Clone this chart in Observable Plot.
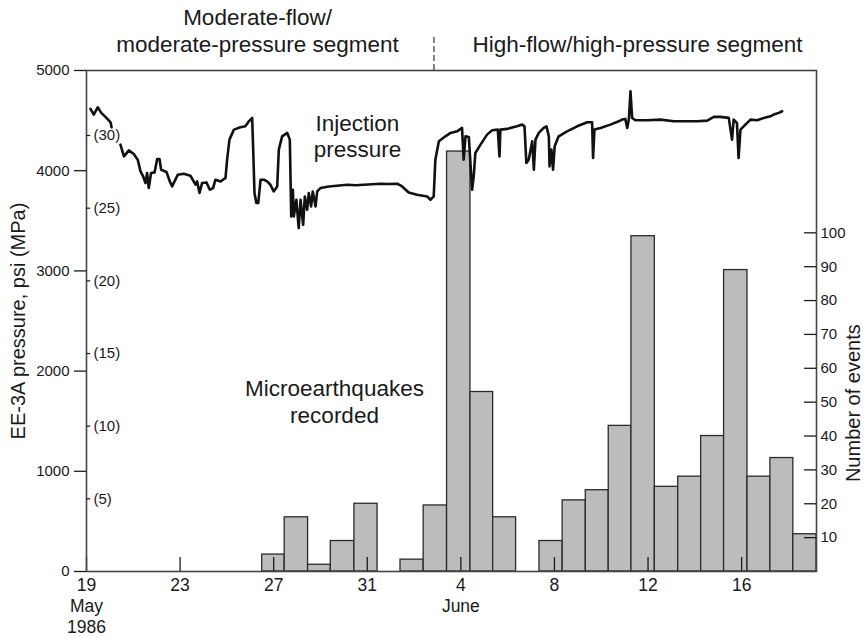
<!DOCTYPE html>
<html><head><meta charset="utf-8">
<script src="https://cdn.jsdelivr.net/npm/d3@7"></script>
<script src="https://cdn.jsdelivr.net/npm/@observablehq/plot@0.6"></script>
<style>body{margin:0;background:#fff;} #chart{width:865px;height:638px;}</style>
</head><body><div id="chart"></div>
<script>
// ---- data (days since 19 May 1986) ----
const pressureDay = [0.17,0.31,0.48,0.63,0.81,1.03,1.07,1.2,1.45,1.6,1.81,2.02,2.19,2.31,2.42,2.52,2.59,2.66,2.76,2.91,3.02,3.12,3.19,3.42,3.56,3.66,3.9,4.16,4.44,4.66,4.73,4.83,4.94,5.13,5.27,5.41,5.51,5.73,5.94,6.01,6.11,6.3,6.58,6.79,6.94,7.08,7.12,7.18,7.26,7.34,7.44,7.58,7.72,7.86,8.0,8.15,8.22,8.36,8.58,8.69,8.75,8.82,8.86,8.97,9.07,9.15,9.26,9.33,9.43,9.5,9.6,9.67,9.79,9.86,10.0,10.36,10.7,11.14,11.5,11.85,12.2,12.56,12.9,13.28,13.49,13.77,14.13,14.56,14.7,14.84,14.91,15.06,15.34,15.56,15.84,16.05,16.12,16.2,16.34,16.48,16.55,16.62,16.84,17.12,17.34,17.58,17.65,17.69,17.98,18.4,18.62,18.72,18.8,18.9,19.05,19.12,19.19,19.33,19.54,19.66,19.76,19.79,19.87,19.94,20.01,20.18,20.54,20.97,21.4,21.61,21.65,21.71,21.97,22.39,22.75,22.89,23.03,23.11,23.18,23.25,23.32,23.46,23.96,24.53,25.1,25.53,26.1,26.53,26.81,27.09,27.45,27.59,27.66,27.8,27.87,27.95,28.16,28.38,28.66,28.95,29.23,29.37,29.59,29.73];
const pressurePsi = [4617,4560,4633,4577,4537,4483,4433,null,4260,4143,4203,4167,4110,3993,3943,3877,3977,3827,3977,3983,4117,4117,4010,3987,3893,3843,3960,3970,3950,3860,3893,3777,3877,3883,3810,3827,3910,3893,3927,4110,4310,4410,4433,4443,4493,4527,4243,3777,3677,3677,3910,3910,3893,3860,3793,3843,4210,4343,4377,4310,3543,3810,3543,3710,3427,3710,3460,3743,3610,3777,3643,3793,3643,3793,3827,3843,3850,3860,3855,3860,3865,3870,3868,3870,3843,3783,3760,3743,3710,3743,4110,4293,4343,4377,4393,4427,4110,4343,4337,3810,3943,4177,4260,4360,4403,4410,4143,4410,4417,4443,4460,4443,4077,4110,4293,4010,4310,4377,4427,4443,4343,4043,4210,4010,4243,4343,4393,4443,4483,4483,4127,4410,4427,4460,4493,4510,4517,4427,4510,4793,4527,4503,4503,4510,4493,4493,4493,4500,4537,4537,4527,4310,4510,4477,4127,4410,4460,4510,4503,4527,4543,4560,4577,4593];

const barStart = [7.51,8.47,9.47,10.44,11.45, 13.42,14.41,15.41,16.41,17.38, 19.36,20.35,21.34,22.32,23.29,24.29,25.29,26.27,27.25,28.25,29.23,30.21];
const barEnd   = [8.47,9.47,10.44,11.45,12.44, 14.41,15.41,16.41,17.38,18.36, 20.35,21.34,22.32,23.29,24.29,25.29,26.27,27.25,28.25,29.23,30.21,31.2];
const eventCount = [5,16,2,9,20, 3.5,19.5,124,53,16, 9,21,24,43,99,25,28,40,89,28,33.5,11];

const psiTicks = [0,1000,2000,3000,4000,5000];
const mpaTicks = [5,10,15,20,25,30];
const eventTicks = [10,20,30,40,50,60,70,80,90,100];
const dateTickDays = [0,4,8,12,16,20,24,28];
const dateTickLabels = ["19\nMay\n1986","23","27","31","4\nJune","8","12","16"];

const PSI_PER_MPA = 145.04;
const PSI_PER_EVENT = 33.8;

const bars = barStart.map((s,i)=>({start:s, end:barEnd[i], count:eventCount[i]}));
const pressure = pressureDay.map((d,i)=>({day:d, psi:pressurePsi[i]}));
const dateTicks = dateTickDays.map((d,i)=>({day:d, label:dateTickLabels[i]}));

const FONT = "Liberation Sans, Arial, Helvetica, sans-serif";
const INK = "#1a1a1a";

const chart = Plot.plot({
  width: 865, height: 638,
  marginLeft: 86, marginRight: 49, marginTop: 70, marginBottom: 67,
  style: {fontFamily: FONT, background: "white", color: INK, overflow: "visible"},
  x: {domain: [0, 31.2], axis: null},
  y: {domain: [0, 5000], axis: null},
  marks: [
    Plot.rect(bars, {x1:"start", x2:"end", y1:0, y2:d=>d.count*PSI_PER_EVENT, fill:"#bcbcbc", stroke:"#2a2a2a", strokeWidth:1.3}),
    Plot.ruleX(dateTicks, {x:"day", y1:0, y2:140, stroke:INK, strokeWidth:1.3}),
    Plot.frame({stroke:"#444", strokeWidth:1.6}),
    Plot.axisY(psiTicks, {anchor:"left", tickSize:12, tickPadding:5, fontSize:15, label:null, tickFormat:d=>String(d), stroke:INK, strokeWidth:1.3, fill:INK}),
    Plot.ruleY(mpaTicks, {y:d=>d*PSI_PER_MPA, x1:0, x2:0.18, stroke:INK, strokeWidth:1.2}),
    Plot.text(mpaTicks, {y:d=>d*PSI_PER_MPA, text:d=>`(${d})`, frameAnchor:"left", textAnchor:"start", dx:7, fontSize:15, fill:INK}),
    Plot.ruleY(eventTicks, {y:d=>d*PSI_PER_EVENT, x1:30.69, x2:31.2, stroke:INK, strokeWidth:1.3}),
    Plot.text(eventTicks, {y:d=>d*PSI_PER_EVENT, text:d=>String(d), frameAnchor:"right", textAnchor:"start", dx:4, fontSize:15, fill:INK}),
    Plot.text(dateTicks, {x:"day", text:"label", frameAnchor:"bottom", lineAnchor:"top", textAnchor:"middle", dy:4, fontSize:17.5, lineHeight:1.22, fill:INK}),
    Plot.line(pressure, {x:"day", y:"psi", stroke:"#111", strokeWidth:2.6, strokeLinejoin:"round"}),
    Plot.ruleX([14.85], {y1:5000, y2:5330, stroke:"#333", strokeWidth:1.2, strokeDasharray:"6,3"}),
    Plot.text(["Moderate-flow/\nmoderate-pressure segment"], {x:7.31, y:5180, lineAnchor:"bottom", lineHeight:1.2, fontSize:22.5, fill:INK}),
    Plot.text(["High-flow/high-pressure segment"], {x:23.55, y:5180, lineAnchor:"bottom", fontSize:22.5, fill:INK}),
    Plot.text(["Injection\npressure"], {x:11.58, y:4140, lineAnchor:"bottom", lineHeight:1.12, fontSize:22.5, fill:INK}),
    Plot.text(["Microearthquakes\nrecorded"], {x:10.6, y:1480, lineAnchor:"bottom", lineHeight:1.2, fontSize:22.5, fill:INK}),
    Plot.text(["EE-3A pressure, psi (MPa)"], {y:2500, frameAnchor:"left", textAnchor:"middle", rotate:-90, dx:-68, fontSize:20, fill:INK}),
    Plot.text(["Number of events"], {y:1680, frameAnchor:"right", textAnchor:"middle", rotate:-90, dx:37, fontSize:20, fill:INK})
  ]
});
document.getElementById("chart").appendChild(chart);
</script></body></html>
